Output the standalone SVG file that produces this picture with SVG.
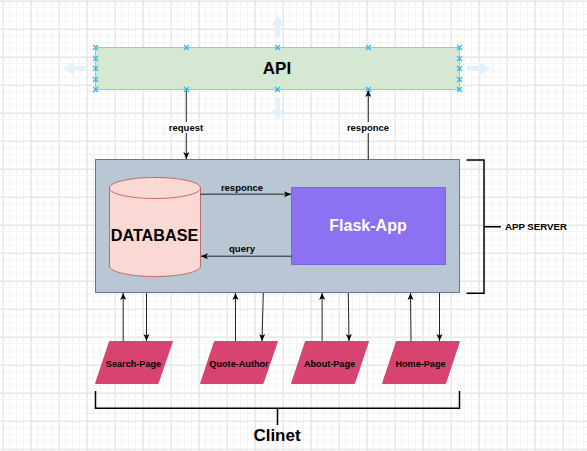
<svg xmlns="http://www.w3.org/2000/svg" width="587" height="451" viewBox="0 0 587 451">
<style>
text{font-family:"Liberation Sans",Arial,sans-serif;font-weight:bold;fill:#000;text-anchor:middle}
.conn{fill:none;stroke:#222;stroke-width:1}
.brk{fill:none;stroke:#000;stroke-width:1.5}
.page{fill:#d6446f;stroke:#d6446f;stroke-width:1}
.lbl{font-size:9.500px}
.pg{font-size:9.150px}
.x{fill:none;stroke:#29b6f2;stroke-width:1.100}
.hint{fill:#e2f1fc}
</style>
<defs>
<marker id="ah" markerWidth="8" markerHeight="8" refX="7" refY="3.500" orient="auto" markerUnits="userSpaceOnUse"><path d="M0 .5L7 3.500L0 6.500L1.800 3.500Z" fill="#000"/></marker>
<pattern id="minor" width="7" height="7" patternUnits="userSpaceOnUse" x="3" y="1"><path d="M7 0V7M0 7H7" fill="none" stroke="#f3f3f3" stroke-width="1" transform="translate(-.5 -.5)"/></pattern>
<pattern id="major" width="28" height="28" patternUnits="userSpaceOnUse" x="3" y="1"><path d="M.5 0V28M0 .5H28" fill="none" stroke="#e6e6e6" stroke-width="1"/></pattern>
</defs>
<rect width="587" height="451" fill="#fff"/>
<rect width="587" height="451" fill="url(#minor)"/>
<rect width="587" height="451" fill="url(#major)"/>
<g id="hints">
<path class="hint" d="M277.500 15L284 26H280V38H275V26H271Z"/>
<path class="hint" d="M277.500 121L284 110H280V98H275V110H271Z"/>
<path class="hint" d="M63 68.500L74 61.500V66H86V71H74V75.500Z"/>
<path class="hint" d="M490 68.500L479 61.500V66H467V71H479V75.500Z"/>
</g>
<g id="api">
<rect x="95.500" y="47.500" width="364" height="42" fill="#d5e8d4" stroke="#a9c79d"/>
<text x="277" y="74" font-size="17">API</text>
</g>
<g id="app-server">
<rect x="95.500" y="159.500" width="364" height="133" fill="#b8c7d3" stroke="#5d7a93"/>
</g>
<g id="database">
<path d="M109.500 188V266C109.500 272 130 276.500 155 276.500S200.500 272 200.500 266V188C200.500 182 180 177.500 155 177.500S109.500 182 109.500 188Z" fill="#fad9d5" stroke="#c26a67"/>
<path d="M109.500 188C109.500 194 130 198.500 155 198.500S200.500 194 200.500 188" fill="none" stroke="#c26a67"/>
<text x="154.500" y="241" font-size="16.200">DATABASE</text>
</g>
<g id="flask-app">
<rect x="291.500" y="187.500" width="154" height="77" fill="#8c72f2" stroke="#7b68d8"/>
<text x="368" y="231" font-size="16" style="fill:#fff">Flask-App</text>
</g>
<g id="search-page">
<path class="page" d="M109.500 341.500H172.500L158 383.500H95.500Z"/>
<text x="133.500" y="366.500" class="pg">Search-Page</text>
</g>
<g id="quote-author">
<path class="page" d="M214.500 341.500H277.500L263 383.500H200.500Z"/>
<text x="239" y="366.500" class="pg">Quote-Author</text>
</g>
<g id="about-page">
<path class="page" d="M305.500 341.500H368.500L354.500 383.500H291.500Z"/>
<text x="329.500" y="366.500" class="pg">About-Page</text>
</g>
<g id="home-page">
<path class="page" d="M396.500 341.500H459.500L445.500 383.500H382.500Z"/>
<text x="420.500" y="366.500" class="pg">Home-Page</text>
</g>
<g id="connectors">
<path class="conn" d="M186.300 89.500V159" marker-end="url(#ah)"/>
<path class="conn" d="M368.300 159.500V90" marker-end="url(#ah)"/>
<path class="conn" d="M200.500 194.200H291" marker-end="url(#ah)"/>
<path class="conn" d="M291.500 256.200H201" marker-end="url(#ah)"/>
<path class="conn" d="M123.200 341V293" marker-end="url(#ah)"/>
<path class="conn" d="M146.500 293V341" marker-end="url(#ah)"/>
<path class="conn" d="M235.500 341V293" marker-end="url(#ah)"/>
<path class="conn" d="M263.300 293L262 341" marker-end="url(#ah)"/>
<path class="conn" d="M322.100 341V293" marker-end="url(#ah)"/>
<path class="conn" d="M348.300 293L349 341" marker-end="url(#ah)"/>
<path class="conn" d="M411 341L410.500 293" marker-end="url(#ah)"/>
<path class="conn" d="M439.500 293V341" marker-end="url(#ah)"/>
<rect x="167" y="122" width="38" height="11" fill="#fff"/>
<rect x="345" y="122" width="47" height="11" fill="#fff"/>
<text x="186" y="131" class="lbl">request</text>
<text x="368" y="131" class="lbl">responce</text>
<text x="242" y="191" class="lbl">responce</text>
<text x="242" y="252" class="lbl">query</text>
</g>
<g id="app-server-bracket">
<path class="brk" d="M466.500 160H484V293.300H466.500M484 226.700H501"/>
<text x="536" y="230" class="lbl" style="font-size:9.700px">APP SERVER</text>
</g>
<g id="client-bracket">
<path class="brk" d="M95.500 391V408.300H459.500V391M277.500 408.300V425"/>
<text x="277" y="441" font-size="17">Clinet</text>
</g>
<path id="handles" class="x" d="M93 45L98 50M93 50L98 45M184 45L189 50M184 50L189 45M275 45L280 50M275 50L280 45M366 45L371 50M366 50L371 45M457 45L462 50M457 50L462 45M93 56L98 61M93 61L98 56M457 56L462 61M457 61L462 56M93 66L98 71M93 71L98 66M457 66L462 71M457 71L462 66M93 77L98 82M93 82L98 77M457 77L462 82M457 82L462 77M93 87L98 92M93 92L98 87M184 87L189 92M184 92L189 87M275 87L280 92M275 92L280 87M366 87L371 92M366 92L371 87M457 87L462 92M457 92L462 87"/>
</svg>
